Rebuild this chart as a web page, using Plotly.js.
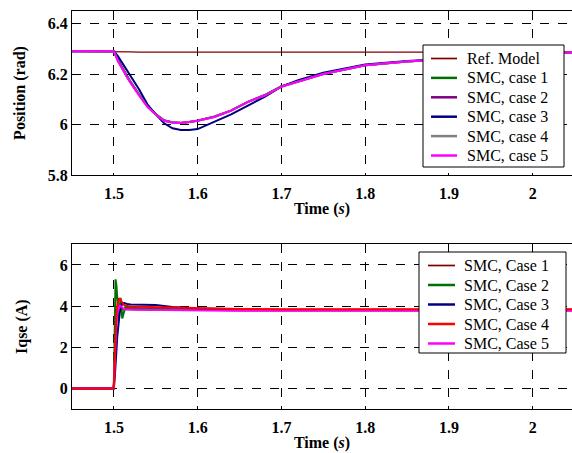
<!DOCTYPE html>
<html><head><meta charset="utf-8">
<script src="https://cdn.plot.ly/plotly-3.0.1.min.js"></script>
<style>body{margin:0;background:#fff}#c{width:572px;height:453px}</style>
</head><body><div id="c"></div>
<script>
// ---- Position plot data ----
var tPos = [1.45, 1.50, 1.505, 1.51, 1.515, 1.52, 1.53, 1.54, 1.55, 1.56, 1.57, 1.58, 1.59, 1.60, 1.62, 1.64, 1.66, 1.68, 1.70, 1.72, 1.75, 1.80, 1.85, 1.90, 1.95, 2.00, 2.05];
var posRef   = [6.29, 6.29, 6.288, 6.288, 6.288, 6.288, 6.287, 6.287, 6.287, 6.287, 6.287, 6.287, 6.287, 6.287, 6.287, 6.287, 6.287, 6.287, 6.287, 6.287, 6.287, 6.287, 6.287, 6.287, 6.287, 6.287, 6.287];
var posCase1 = [6.29, 6.29, 6.255, 6.225, 6.195, 6.17, 6.12, 6.075, 6.042, 6.017, 6.009, 6.007, 6.01, 6.016, 6.032, 6.056, 6.09, 6.117, 6.152, 6.172, 6.2, 6.235, 6.25, 6.26, 6.27, 6.278, 6.287];
var posCase2 = [6.29, 6.29, 6.255, 6.222, 6.192, 6.167, 6.117, 6.072, 6.04, 6.016, 6.008, 6.006, 6.01, 6.015, 6.031, 6.055, 6.09, 6.116, 6.151, 6.171, 6.2, 6.235, 6.25, 6.26, 6.27, 6.278, 6.287];
var posCase3 = [6.29, 6.29, 6.27, 6.245, 6.22, 6.195, 6.14, 6.08, 6.04, 6.005, 5.985, 5.978, 5.978, 5.982, 6.01, 6.04, 6.075, 6.11, 6.15, 6.176, 6.205, 6.238, 6.252, 6.262, 6.27, 6.278, 6.287];
var posCase4 = [6.29, 6.29, 6.252, 6.221, 6.191, 6.166, 6.116, 6.071, 6.04, 6.015, 6.008, 6.006, 6.01, 6.015, 6.03, 6.055, 6.09, 6.115, 6.15, 6.17, 6.2, 6.235, 6.25, 6.26, 6.27, 6.278, 6.287];
var posCase5 = [6.29, 6.29, 6.25, 6.22, 6.19, 6.165, 6.115, 6.07, 6.04, 6.015, 6.008, 6.006, 6.01, 6.015, 6.03, 6.055, 6.09, 6.115, 6.15, 6.17, 6.2, 6.235, 6.25, 6.26, 6.27, 6.278, 6.287];
var posNames = ["Ref. Model", "SMC, case 1", "SMC, case 2", "SMC, case 3", "SMC, case 4", "SMC, case 5"];

// ---- Iqse plot data ----
var tIq = [1.45, 1.4995, 1.500, 1.501, 1.502, 1.503, 1.504, 1.505, 1.506, 1.507, 1.508, 1.509, 1.510, 1.512, 1.514, 1.516, 1.52, 1.53, 1.55, 1.57, 1.60, 1.65, 1.70, 1.80, 1.90, 2.00, 2.05];
var iqCase1 = [0, 0, 0.2, 1.4, 2.6, 3.4, 3.8, 3.95, 4.0, 3.95, 3.9, 3.85, 3.85, 3.85, 3.85, 3.84, 3.84, 3.83, 3.82, 3.81, 3.8, 3.8, 3.8, 3.8, 3.8, 3.8, 3.8];
var iqCase2 = [0, 0, 0.3, 3.0, 5.3, 5.0, 4.3, 3.6, 3.3, 3.9, 4.4, 4.0, 3.4, 3.7, 4.0, 3.9, 3.92, 3.9, 3.87, 3.85, 3.82, 3.8, 3.8, 3.8, 3.8, 3.8, 3.8];
var iqCase3 = [0, 0, 0, 0.5, 1.0, 1.8, 2.5, 3.0, 3.5, 3.7, 3.9, 4.05, 4.15, 4.15, 4.12, 4.1, 4.08, 4.07, 4.05, 3.95, 3.88, 3.84, 3.82, 3.82, 3.82, 3.82, 3.82];
var iqCase4 = [0, 0, 0.2, 1.5, 2.8, 3.6, 4.0, 4.25, 4.35, 4.35, 4.3, 4.22, 4.15, 4.05, 4.02, 4.0, 3.98, 3.97, 3.95, 3.92, 3.88, 3.86, 3.85, 3.85, 3.85, 3.85, 3.85];
var iqCase5 = [0, 0, 0.1, 1.2, 2.4, 3.2, 3.6, 3.8, 3.95, 4.05, 4.0, 3.95, 3.9, 3.85, 3.84, 3.83, 3.83, 3.82, 3.81, 3.8, 3.78, 3.77, 3.77, 3.77, 3.77, 3.77, 3.77];
var iqNames = ["SMC, Case 1", "SMC, Case 2", "SMC, Case 3", "SMC, Case 4", "SMC, Case 5"];

var FONT = "'Liberation Serif', 'Times New Roman', serif";
var posSeries = [posRef, posCase1, posCase2, posCase3, posCase4, posCase5];
var posColors = ["#800000", "#007000", "#800080", "#000080", "#808080", "#ff00ff"];
var posWidths = [1.2, 2, 2, 2, 2, 2];
var iqSeries = [iqCase1, iqCase2, iqCase3, iqCase4, iqCase5];
var iqColors = ["#800000", "#007000", "#000080", "#ff0000", "#ff00ff"];
var iqWidths = [1.2, 2, 2, 2, 2];
var iqDrawOrder = [0, 1, 2, 4, 3]; // red drawn over magenta, as in the reference

var data = [];
posSeries.forEach(function (s, i) {
  data.push({x: tPos, y: s, type: "scatter", mode: "lines", name: posNames[i],
    line: {color: posColors[i], width: posWidths[i]}, xaxis: "x", yaxis: "y"});
});
iqDrawOrder.forEach(function (i) {
  data.push({x: tIq, y: iqSeries[i], type: "scatter", mode: "lines", name: iqNames[i],
    line: {color: iqColors[i], width: 2}, xaxis: "x2", yaxis: "y2"});
});

// pixel -> paper helpers (plot area: x 72..572, y 11..409)
function px(v) { return (v - 72) / 500; }
function py(v) { return (409 - v) / 398; }

var shapes = [], annotations = [];
function addLegend(names, colors, widths, box, y0, dy, lx0, lx1, tx) {
  shapes.push({type: "rect", xref: "paper", yref: "paper", x0: px(box[0]), x1: px(box[1]), y0: py(box[3]), y1: py(box[2]),
    line: {color: "#000", width: 1}, fillcolor: "#fff", layer: "above"});
  names.forEach(function (n, i) {
    var yy = y0 + i * dy;
    shapes.push({type: "line", xref: "paper", yref: "paper", x0: px(lx0), x1: px(lx1), y0: py(yy), y1: py(yy),
      line: {color: colors[i], width: widths[i] + 0.5}, layer: "above"});
    annotations.push({xref: "paper", yref: "paper", x: px(tx), y: py(yy), xanchor: "left", yanchor: "middle",
      text: n, showarrow: false, font: {family: FONT, size: 16, color: "#000"}});
  });
}
addLegend(posNames, posColors, posWidths, [423, 564, 45, 167], 58.5, 19.4, 431, 457, 465);
addLegend(iqNames, iqColors, iqWidths, [419, 566, 252, 353], 265.5, 19.5, 428, 455, 462);

var TF = {family: FONT, size: 16, color: "#000", weight: "bold"};
function xax(anchor) {
  return {range: [1.45, 2.047], domain: [0, 1], anchor: anchor, tickvals: [1.5, 1.6, 1.7, 1.8, 1.9, 2],
    ticktext: ["1.5", "1.6", "1.7", "1.8", "1.9", "2"],
    showgrid: true, gridcolor: "#000", griddash: "dash", gridwidth: 1, zeroline: false,
    showline: true, linecolor: "#000", linewidth: 1, mirror: true, ticks: "", ticklabelstandoff: 4,
    tickfont: TF,
    title: {text: "Time (<i>s</i>)", font: TF, standoff: 1}};
}
var layout = {
  width: 572, height: 453, paper_bgcolor: "#fff", plot_bgcolor: "#fff",
  margin: {l: 72, r: 0, t: 11, b: 44},
  showlegend: false,
  shapes: shapes, annotations: annotations,
  xaxis: xax("y"),
  yaxis: {domain: [0.588, 1], anchor: "x", range: [5.8, 6.45], tickvals: [5.8, 6, 6.2, 6.4], ticktext: ["5.8", "6", "6.2", "6.4"],
    showgrid: true, gridcolor: "#000", griddash: "dash", gridwidth: 1, zeroline: false,
    showline: true, linecolor: "#000", linewidth: 1, mirror: true, ticks: "",
    tickfont: TF,
    title: {text: "Position (rad)", font: TF, standoff: 18}},
  xaxis2: xax("y2"),
  yaxis2: {domain: [0, 0.4138], anchor: "x2", range: [-1, 7], tickvals: [0, 2, 4, 6], ticktext: ["0", "2", "4", "6"],
    showgrid: true, gridcolor: "#000", griddash: "dash", gridwidth: 1, zeroline: false,
    showline: true, linecolor: "#000", linewidth: 1, mirror: true, ticks: "",
    tickfont: TF,
    title: {text: "Iqse (A)", font: TF, standoff: 28}}
};
Plotly.newPlot("c", data, layout, {displayModeBar: false, staticPlot: true});
</script></body></html>
